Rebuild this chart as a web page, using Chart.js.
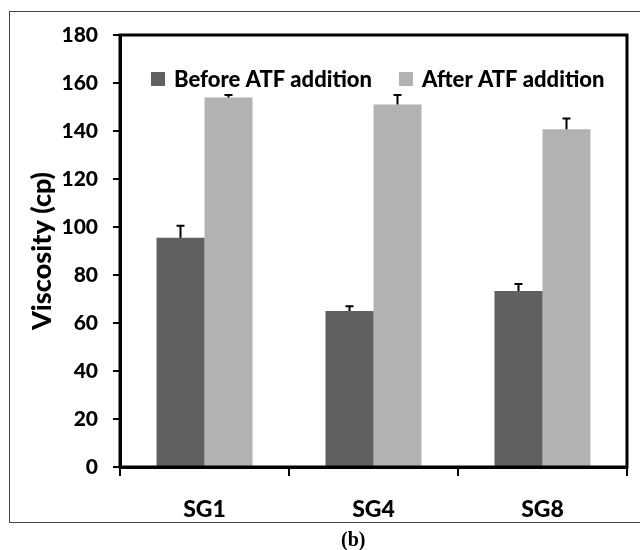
<!DOCTYPE html>
<html>
<head>
<meta charset="utf-8">
<script src="https://cdn.jsdelivr.net/npm/chart.js@4/dist/chart.umd.min.js"></script>
<style>
  body{margin:0;background:#fff;}
  #wrap{position:relative;width:640px;height:550px;overflow:hidden;}
  #frame{position:absolute;left:9px;top:11px;width:700px;height:510px;border:1px solid #444;}
  #cap{position:absolute;left:341px;top:528px;font:bold 20px "Liberation Serif",serif;color:#000;}
  canvas{position:absolute;left:0;top:0;}
</style>
</head>
<body>
<div id="wrap">
  <div id="frame"></div>
  <canvas id="chart" width="640" height="550"></canvas>
  <div id="cap">(b)</div>
</div>
<script>
const categories=["SG1","SG4","SG8"]
const beforeVals=[95.5,65,73.3]
const beforeErr=[5,2,3]
const afterVals=[154,151,140.7]
const afterErr=[1,4,4.5]
const yTicks=[0,20,40,60,80,100,120,140,160,180]

const FONT="Lato"
const W="900"

const errorBars={
  id:"errorBars",
  afterDatasetsDraw(chart){
    const ctx=chart.ctx
    const y=chart.scales.y
    chart.data.datasets.forEach((ds,i)=>{
      const meta=chart.getDatasetMeta(i)
      meta.data.forEach((bar,j)=>{
        const top=y.getPixelForValue(ds.data[j]+ds.errors[j])
        ctx.save()
        ctx.strokeStyle="#000"
        ctx.lineWidth=2
        ctx.beginPath()
        ctx.moveTo(bar.x,bar.y)
        ctx.lineTo(bar.x,top)
        ctx.moveTo(bar.x-4,top)
        ctx.lineTo(bar.x+4,top)
        ctx.stroke()
        ctx.restore()
      })
    })
  }
}

const boxLegend={
  id:"boxLegend",
  afterDraw(chart){
    const ctx=chart.ctx
    const a=chart.chartArea
    const cy=a.top+44
    const items=[{x:a.left+31},{x:a.left+279}]
    ctx.save()
    ctx.font=W+" 22px "+FONT
    ctx.textBaseline="middle"
    chart.data.datasets.forEach((ds,i)=>{
      const x=items[i].x
      ctx.fillStyle=ds.backgroundColor
      ctx.fillRect(x,cy-7,14,14)
      ctx.fillStyle="#000"
      ctx.fillText(ds.label,x+23,cy+1)
    })
    // plot border
    ctx.strokeStyle="#000"
    ctx.lineWidth=3
    ctx.strokeRect(a.left,a.top,a.right-a.left,a.bottom-a.top)
    ctx.restore()
  }
}

new Chart(document.getElementById("chart"),{
  type:"bar",
  data:{
    labels:categories,
    datasets:[
      {label:"Before ATF addition",data:beforeVals,errors:beforeErr,backgroundColor:"#606060",categoryPercentage:0.568,barPercentage:1},
      {label:"After ATF addition",data:afterVals,errors:afterErr,backgroundColor:"#b2b2b2",categoryPercentage:0.568,barPercentage:1}
    ]
  },
  options:{
    responsive:false,
    animation:false,
    layout:{padding:{top:35,right:13,bottom:0,left:0}},
    plugins:{legend:{display:false},tooltip:{enabled:false}},
    scales:{
      x:{
        grid:{offset:true,drawOnChartArea:false,color:"#000",lineWidth:2,tickLength:9},
        border:{color:"#000",width:3},
        ticks:{color:"#000",font:{family:FONT,size:23,weight:W},padding:20},
        afterFit(s){s.height=83}
      },
      y:{
        min:0,max:180,
        afterBuildTicks(s){s.ticks=yTicks.map(v=>({value:v}))},
        grid:{drawOnChartArea:false,color:"#000",lineWidth:2,tickLength:7},
        border:{color:"#000",width:3},
        ticks:{color:"#000",font:{family:FONT,size:21,weight:W},padding:15},
        title:{display:true,text:"Viscosity (cp)",color:"#000",font:{family:FONT,size:27,weight:W},padding:{top:26,bottom:0}},
        afterFit(s){s.width=120}
      }
    }
  },
  plugins:[errorBars,boxLegend]
})
</script>
</body>
</html>
